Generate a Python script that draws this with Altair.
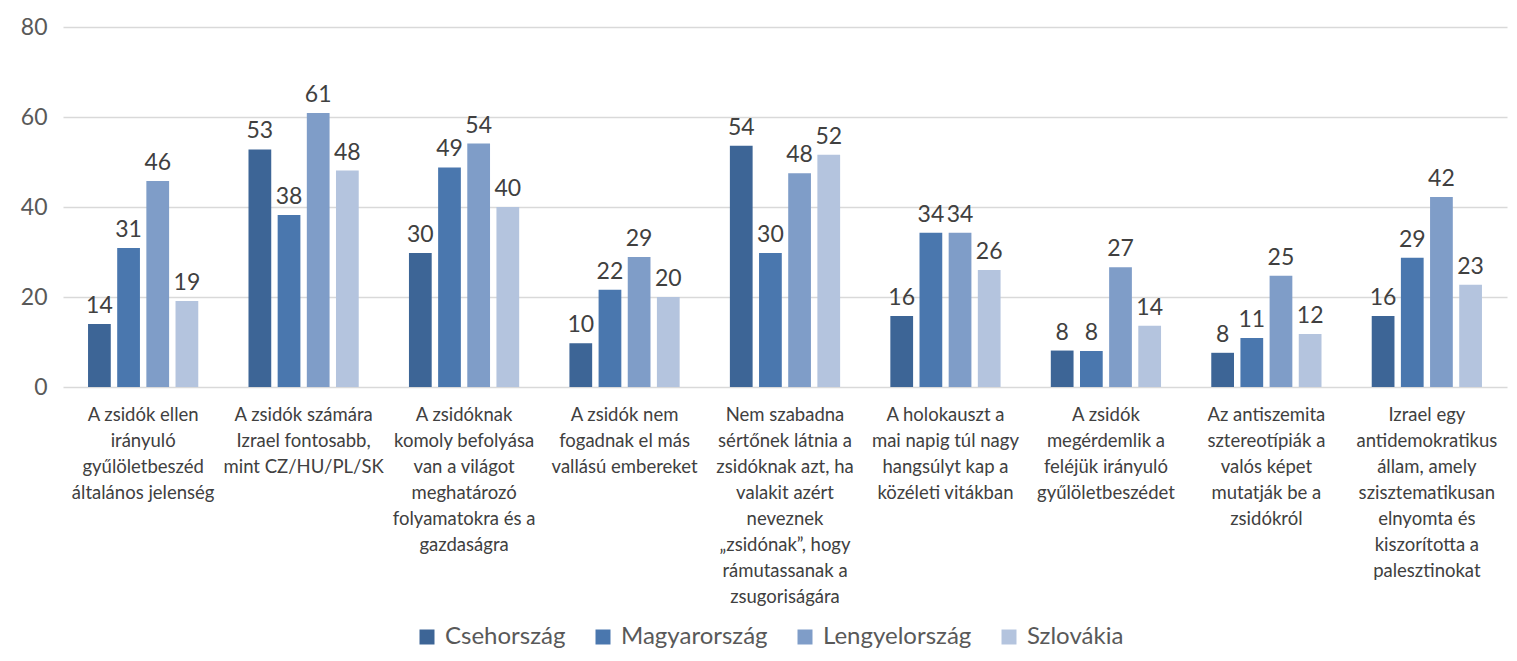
import altair as alt
import pandas as pd

categories = [
    "A zsidók ellen|irányuló|gyűlöletbeszéd|általános jelenség",
    "A zsidók számára|Izrael fontosabb,|mint CZ/HU/PL/SK",
    "A zsidóknak|komoly befolyása|van a világot|meghatározó|folyamatokra és a|gazdaságra",
    "A zsidók nem|fogadnak el más|vallású embereket",
    "Nem szabadna|sértőnek látnia a|zsidóknak azt, ha|valakit azért|neveznek|„zsidónak”, hogy|rámutassanak a|zsugoriságára",
    "A holokauszt a|mai napig túl nagy|hangsúlyt kap a|közéleti vitákban",
    "A zsidók|megérdemlik a|feléjük irányuló|gyűlöletbeszédet",
    "Az antiszemita|sztereotípiák a|valós képet|mutatják be a|zsidókról",
    "Izrael egy|antidemokratikus|állam, amely|szisztematikusan|elnyomta és|kiszorította a|palesztinokat",
]
series = ["Csehország", "Magyarország", "Lengyelország", "Szlovákia"]
colors = ["#3D6596", "#4A77AE", "#7F9DC8", "#B4C4DE"]

cz = [14.0, 52.8, 29.8, 9.7, 53.6, 15.8, 8.1, 7.6, 15.8]
hu = [30.9, 38.2, 48.8, 21.6, 29.8, 34.3, 8.0, 10.9, 28.7]
pl = [45.8, 60.9, 54.1, 28.9, 47.5, 34.3, 26.6, 24.7, 42.2]
sk = [19.1, 48.1, 40.0, 20.0, 51.6, 26.0, 13.6, 11.8, 22.7]

rows = []
for vals, s in zip([cz, hu, pl, sk], series):
    for c, v in zip(categories, vals):
        rows.append({"cat": c, "series": s, "value": v})
df = pd.DataFrame(rows)

FONT = "Lato"

base = alt.Chart(df).encode(
    x=alt.X("cat:N", sort=categories, title=None,
            scale=alt.Scale(paddingInner=0.313, paddingOuter=0.156),
            axis=alt.Axis(labelExpr="split(datum.label, '|')", labelAngle=0,
                          labelFontSize=18.5, labelColor="#404040", labelFont=FONT,
                          labelLineHeight=26, labelPadding=18, ticks=False,
                          domain=False, labelBaseline="top", labelLimit=200,
                          grid=False)),
    xOffset=alt.XOffset("series:N", sort=series,
                        scale=alt.Scale(paddingInner=0.22, paddingOuter=0)),
)

bars = base.mark_bar().encode(
    y=alt.Y("value:Q", title=None,
            scale=alt.Scale(domain=[0, 80], nice=False),
            axis=alt.Axis(values=[0, 20, 40, 60, 80], labelFontSize=23,
                          labelColor="#595959", labelFont=FONT, ticks=False,
                          domain=False, labelPadding=16, gridColor="#D9D9D9",
                          gridWidth=1.5)),
    color=alt.Color("series:N", sort=series,
                    scale=alt.Scale(domain=series, range=colors),
                    legend=alt.Legend(title=None, orient="none", direction="horizontal",
                                      legendX=352, legendY=598,
                                      symbolType="square", symbolSize=225,
                                      symbolStrokeWidth=0,
                                      labelFontSize=24, labelFont=FONT,
                                      labelColor="#595959", columnPadding=25,
                                      labelOffset=6)),
)

labels = base.mark_text(baseline="alphabetic", dy=-11, fontSize=23,
                        font=FONT, color="#404040").encode(
    y=alt.Y("value:Q"),
    text=alt.Text("value:Q", format=".0f"),
)

chart = alt.layer(bars, labels).properties(
    width=1444, height=360,
    padding={"left": 55, "top": 19, "right": 2, "bottom": 262},
    autosize=alt.AutoSizeParams(type="none"),
).configure(background="white").configure_view(stroke=None)

chart.save("out.html", embed_options={"renderer": "svg", "actions": False})
